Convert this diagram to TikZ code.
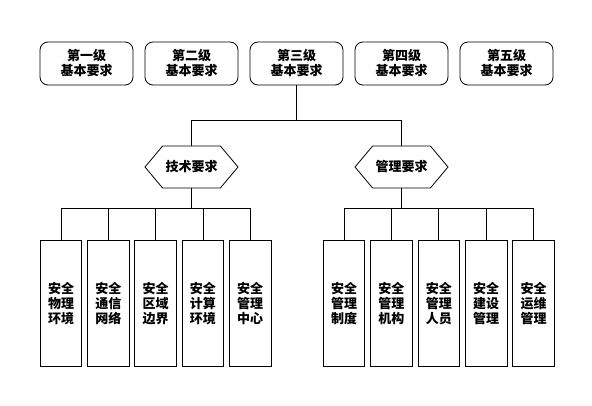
\documentclass[tikz,border=0pt]{standalone}
\usepackage{fontspec}
\setmainfont{Noto Sans CJK SC}[BoldFont=* Black]
\usepackage{tikz}
\usetikzlibrary{shapes.symbols}

\begin{document}
\begin{tikzpicture}[x=1pt,y=-1pt,
       every node/.style={font=\fontsize{13}{15}\selectfont\bfseries,align=center,inner sep=0pt,line width=0.8pt},
       level/.style={draw,rounded corners=8pt,minimum width=93pt,minimum height=43pt},
       req/.style={draw,signal,signal to=east and west,signal pointer angle=100,minimum width=93pt,minimum height=42pt},
       item/.style={draw,minimum width=41.5pt,minimum height=126.7pt},
       link/.style={line width=0.8pt}]
       \useasboundingbox (0,0) rectangle (592,405);
       % levels
       \foreach \i/\t in {1/第一级,2/第二级,3/第三级,4/第四级,5/第五级}
         \node[level] (lv\i) at ({86.5+105*(\i-1)},63.5) {\t\\基本要求};
       % requirements
       \node[req] (tech) at (191.5,167) {技术要求};
       \node[req] (mgmt) at (401.5,167) {管理要求};
       % items
       \foreach \i/\t in {1/物理\\环境,2/通信\\网络,3/区域\\边界,4/计算\\环境,5/管理\\中心}
         \node[item] (t\i) at ({61+47.3*(\i-1)},303.3) {安全\\\t};
       \foreach \i/\t in {1/管理\\制度,2/管理\\机构,3/管理\\人员,4/建设\\管理,5/运维\\管理}
         \node[item] (m\i) at ({344+47.4*(\i-1)},303.3) {安全\\\t};
       % links
       \draw[link] (lv3.south) -- ++(0,35) coordinate (j0);
       \draw[link] (tech.north) |- (j0) -| (mgmt.north);
       \draw[link] (tech.south) -- ++(0,20) coordinate (jt);
       \draw[link] (mgmt.south) -- ++(0,20) coordinate (jm);
       \foreach \i in {1,...,5} {
         \draw[link] (t\i.north) |- (jt);
         \draw[link] (m\i.north) |- (jm);
       }
      \end{tikzpicture}
\end{document}
